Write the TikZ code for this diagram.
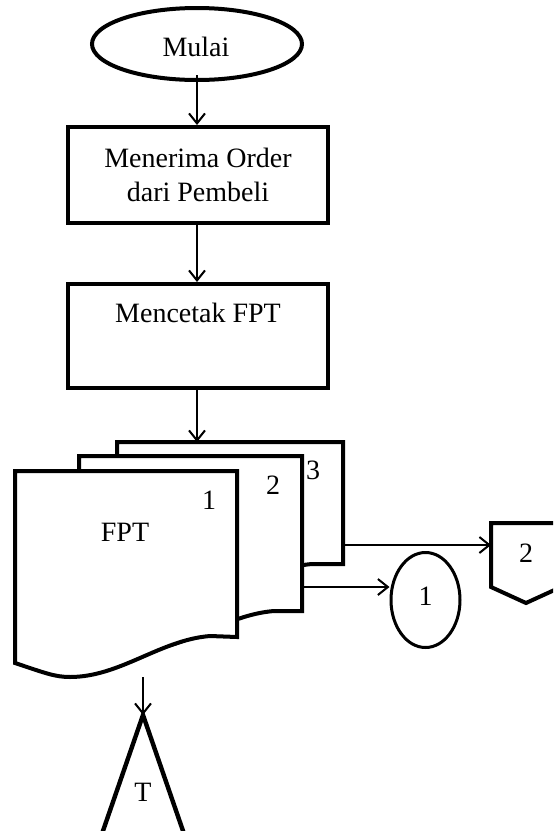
\documentclass[tikz,border=0pt]{standalone}
\usepackage{fontspec}
\setmainfont{Liberation Serif}
\usetikzlibrary{arrows.meta,shapes.geometric}
\begin{document}
\begin{tikzpicture}[x=0.5pt,y=-0.5pt,
  txt/.style={font=\fontsize{14}{17}\selectfont, inner sep=0pt},
  procbox/.style={draw, line width=2pt, rectangle, inner sep=0pt},
  shp/.style={draw, line width=2pt, fill=white, line join=miter},
  arr/.style={-{Straight Barb[length=5pt,width=8pt]}, line width=1pt}]
\clip (0,0) rectangle (553,831);
\useasboundingbox (0,0) rectangle (553,831);
% start
\node[draw, ellipse, line width=2pt, minimum width=105pt, minimum height=36pt, inner sep=0pt] (start) at (197,44) {};
\node[txt] (starttxt) at (196,47) {Mulai};
% box 1
\node[procbox, minimum width=130pt, minimum height=48pt, txt, align=center] (b1) at (198,175) {Menerima Order\\dari Pembeli};
% box 2
\node[procbox, minimum width=130pt, minimum height=52pt] (b2) at (198,336) {};
\node[txt] (b2txt) at (198,313) {Mencetak FPT};
% documents
\draw[shp] (117,590) -- (117,442) -- (343,442) -- (343,564) -- (312,564)
  .. controls (262,568) and (222,604) .. (172,604)
  .. controls (157,604) and (147,600) .. cycle;
\draw[shp] (79,637) -- (79,456) -- (302,456) -- (302,611) -- (274,611)
  .. controls (224,615) and (184,651) .. (134,651)
  .. controls (119,651) and (109,647) .. cycle;
\draw[shp] (15,663) -- (15,471) -- (237,471) -- (237,637) -- (210,636)
  .. controls (160,640) and (120,677) .. (70,677)
  .. controls (55,677) and (45,673) .. cycle;
\node[txt] (fpt) at (125,532) {FPT};
\node[txt] (n1) at (209,500) {1};
\node[txt] (n2) at (273,485) {2};
\node[txt] (n3) at (313,470) {3};
\coordinate (d3top) at (197,442);
\coordinate (d3right) at (343,545);
\coordinate (d2right) at (303,587);
\coordinate (d1bottom) at (143,677);
% on-page connector 1
\node[draw, ellipse, line width=1.5pt, minimum width=34.5pt, minimum height=47.5pt, inner sep=0pt] (c1) at (425.5,600) {};
\node[txt] (c1txt) at (425.5,596) {1};
% off-page connector 2
\draw[shp] (491,523) -- (561,523) -- (561,587) -- (526,603) -- (491,587) -- cycle;
\coordinate (p2west) at (491,545);
\node[txt] (p2txt) at (526,553) {2};
% terminator triangle
\draw[line width=2.2pt, line join=miter] (143,715) -- (99.5,841) -- (186.5,841) -- cycle;
\coordinate (tapex) at (143,715);
\node[txt] (ttxt) at (143,792) {T};
% connectors
\draw[arr] ([yshift=3.5pt]start.south) -- (start.south |- b1.north);
\draw[arr] (start.south |- b1.south) -- (start.south |- b2.north);
\draw[arr] (start.south |- b2.south) -- (d3top);
\draw[arr] (d3right) -- (p2west);
\draw[arr] (d2right) -- (d2right -| c1.west);
\draw[arr] (d1bottom) -- (tapex);
\end{tikzpicture}
\end{document}
